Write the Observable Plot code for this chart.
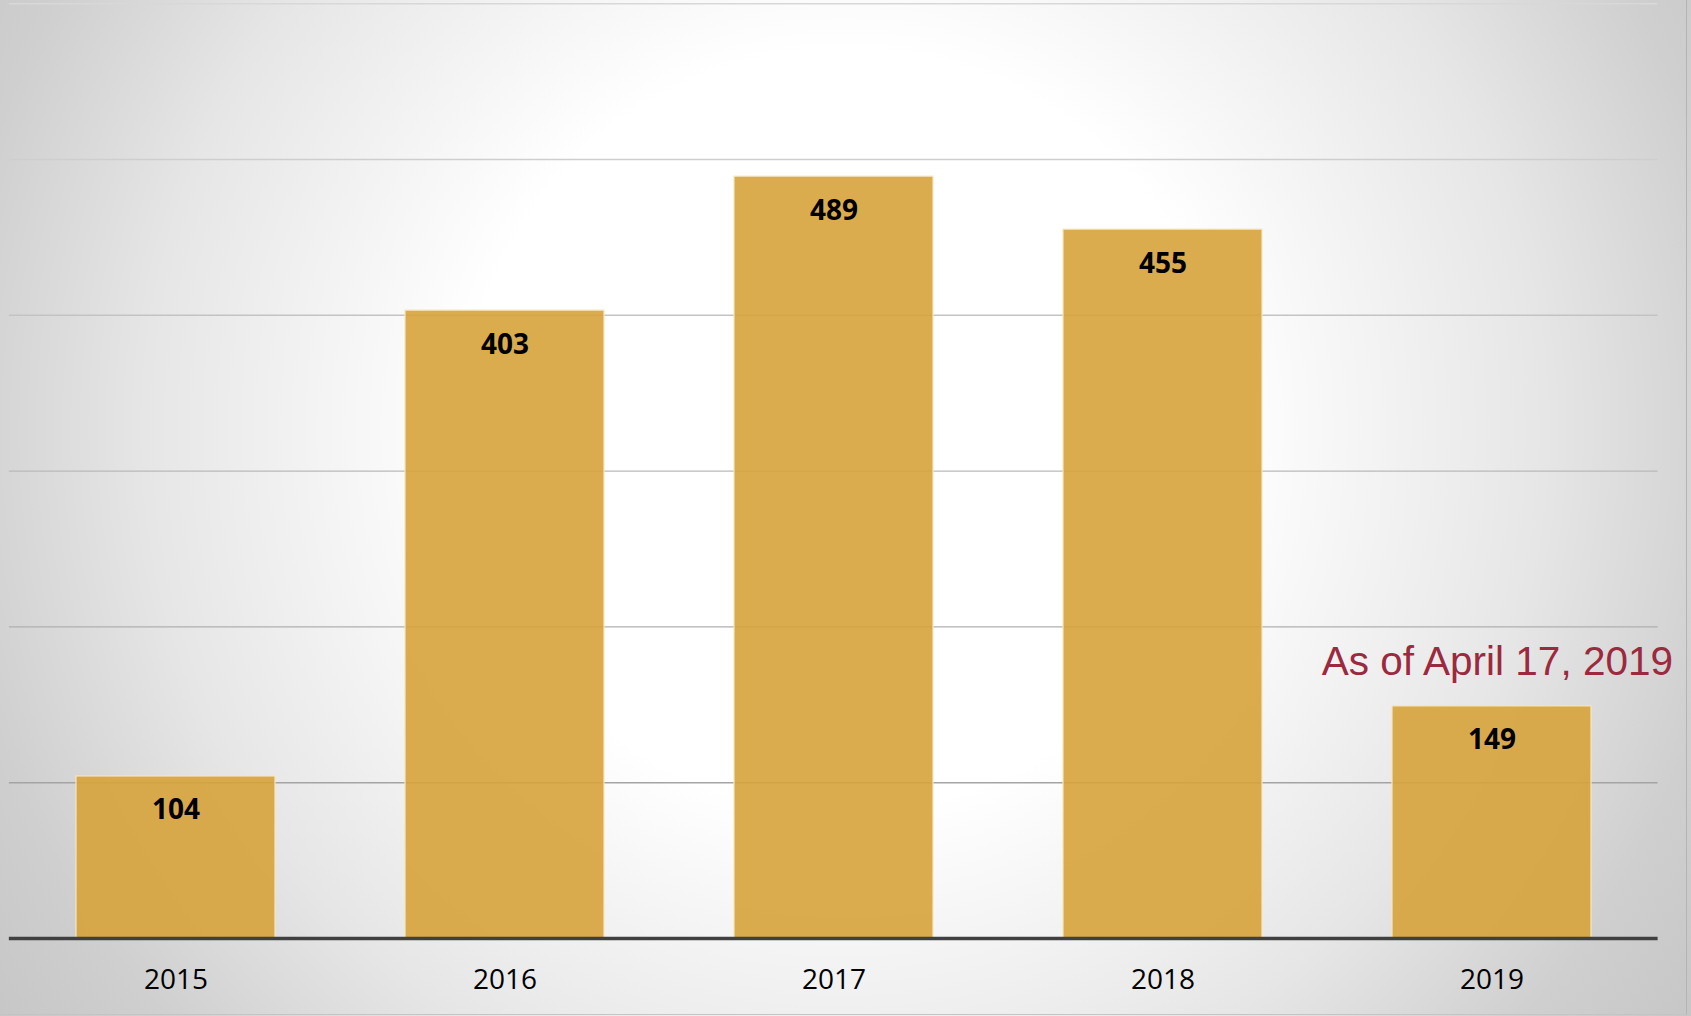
<!DOCTYPE html>
<html>
<head>
<meta charset="utf-8">
<script src="https://cdn.jsdelivr.net/npm/d3@7"></script>
<script src="https://cdn.jsdelivr.net/npm/@observablehq/plot@0.6"></script>
<style>
  html, body { margin: 0; padding: 0; }
  body {
    width: 1691px; height: 1016px; overflow: hidden; position: relative;
    background: radial-gradient(circle at 845px 430px, #ffffff 0px, #ffffff 380px, #e6e6e6 700px, #cfcfcf 900px, #c2c2c2 1100px);
  }
  #chart svg { display: block; }
  #frame { position: absolute; left: 0; top: 0; width: 1686px; height: 1014px;
    border-right: 1px solid #b4b4b4; border-bottom: 1px solid #c4c4c4; pointer-events: none; }
</style>
</head>
<body>
<div id="chart"></div>
<div id="frame"></div>
<script>
const years = ["2015", "2016", "2017", "2018", "2019"];
const counts = [104, 403, 489, 455, 149];
const gridValues = [100, 200, 300, 400, 500, 600];
const note = "As of April 17, 2019";
const noteYear = "2019";

const data = years.map((y, i) => ({year: y, count: counts[i]}));
const noteData = data.filter(d => d.year === noteYear).map(d => ({...d, label: note}));

const gridColor = d3.interpolateRgb("#9a9a9a", "#d8d8d8");
const font = "'Open Sans', Lato, sans-serif";

const chart = Plot.plot({
  width: 1691,
  height: 1016,
  marginLeft: 8.85,
  marginRight: 33.4,
  marginTop: 3.2,
  marginBottom: 78,
  style: {background: "transparent", fontFamily: font, overflow: "visible"},
  x: {domain: years, paddingInner: 0.395, paddingOuter: 0.1975, label: null},
  y: {domain: [0, 600], axis: null},
  marks: [
    Plot.ruleY(gridValues, {stroke: d => gridColor(d / 600), strokeWidth: 1.4}),
    Plot.barY(data, {x: "year", y: "count", fill: "#d6a33a", fillOpacity: 0.9, stroke: "#f6e7c2", strokeWidth: 1.2}),
    Plot.ruleY([0], {stroke: "#404040", strokeWidth: 3.5}),
    Plot.text(data, {x: "year", y: "count", text: d => String(d.count), dy: 34, lineAnchor: "middle",
      fontSize: 28, fontWeight: "bold", fill: "#000", fontFamily: font}),
    Plot.text(noteData, {x: "year", y: "count", text: "label", textAnchor: "end", lineAnchor: "bottom",
      dx: 181, dy: -31, fontSize: 40.5, fill: "#9b2a3e", fontFamily: "'Liberation Sans', Arial, sans-serif"}),
    Plot.axisX({tickSize: 0, tickPadding: 31, fontSize: 28, fill: "#000", label: null, fontFamily: font})
  ]
});
document.getElementById("chart").appendChild(chart);
</script>
</body>
</html>
